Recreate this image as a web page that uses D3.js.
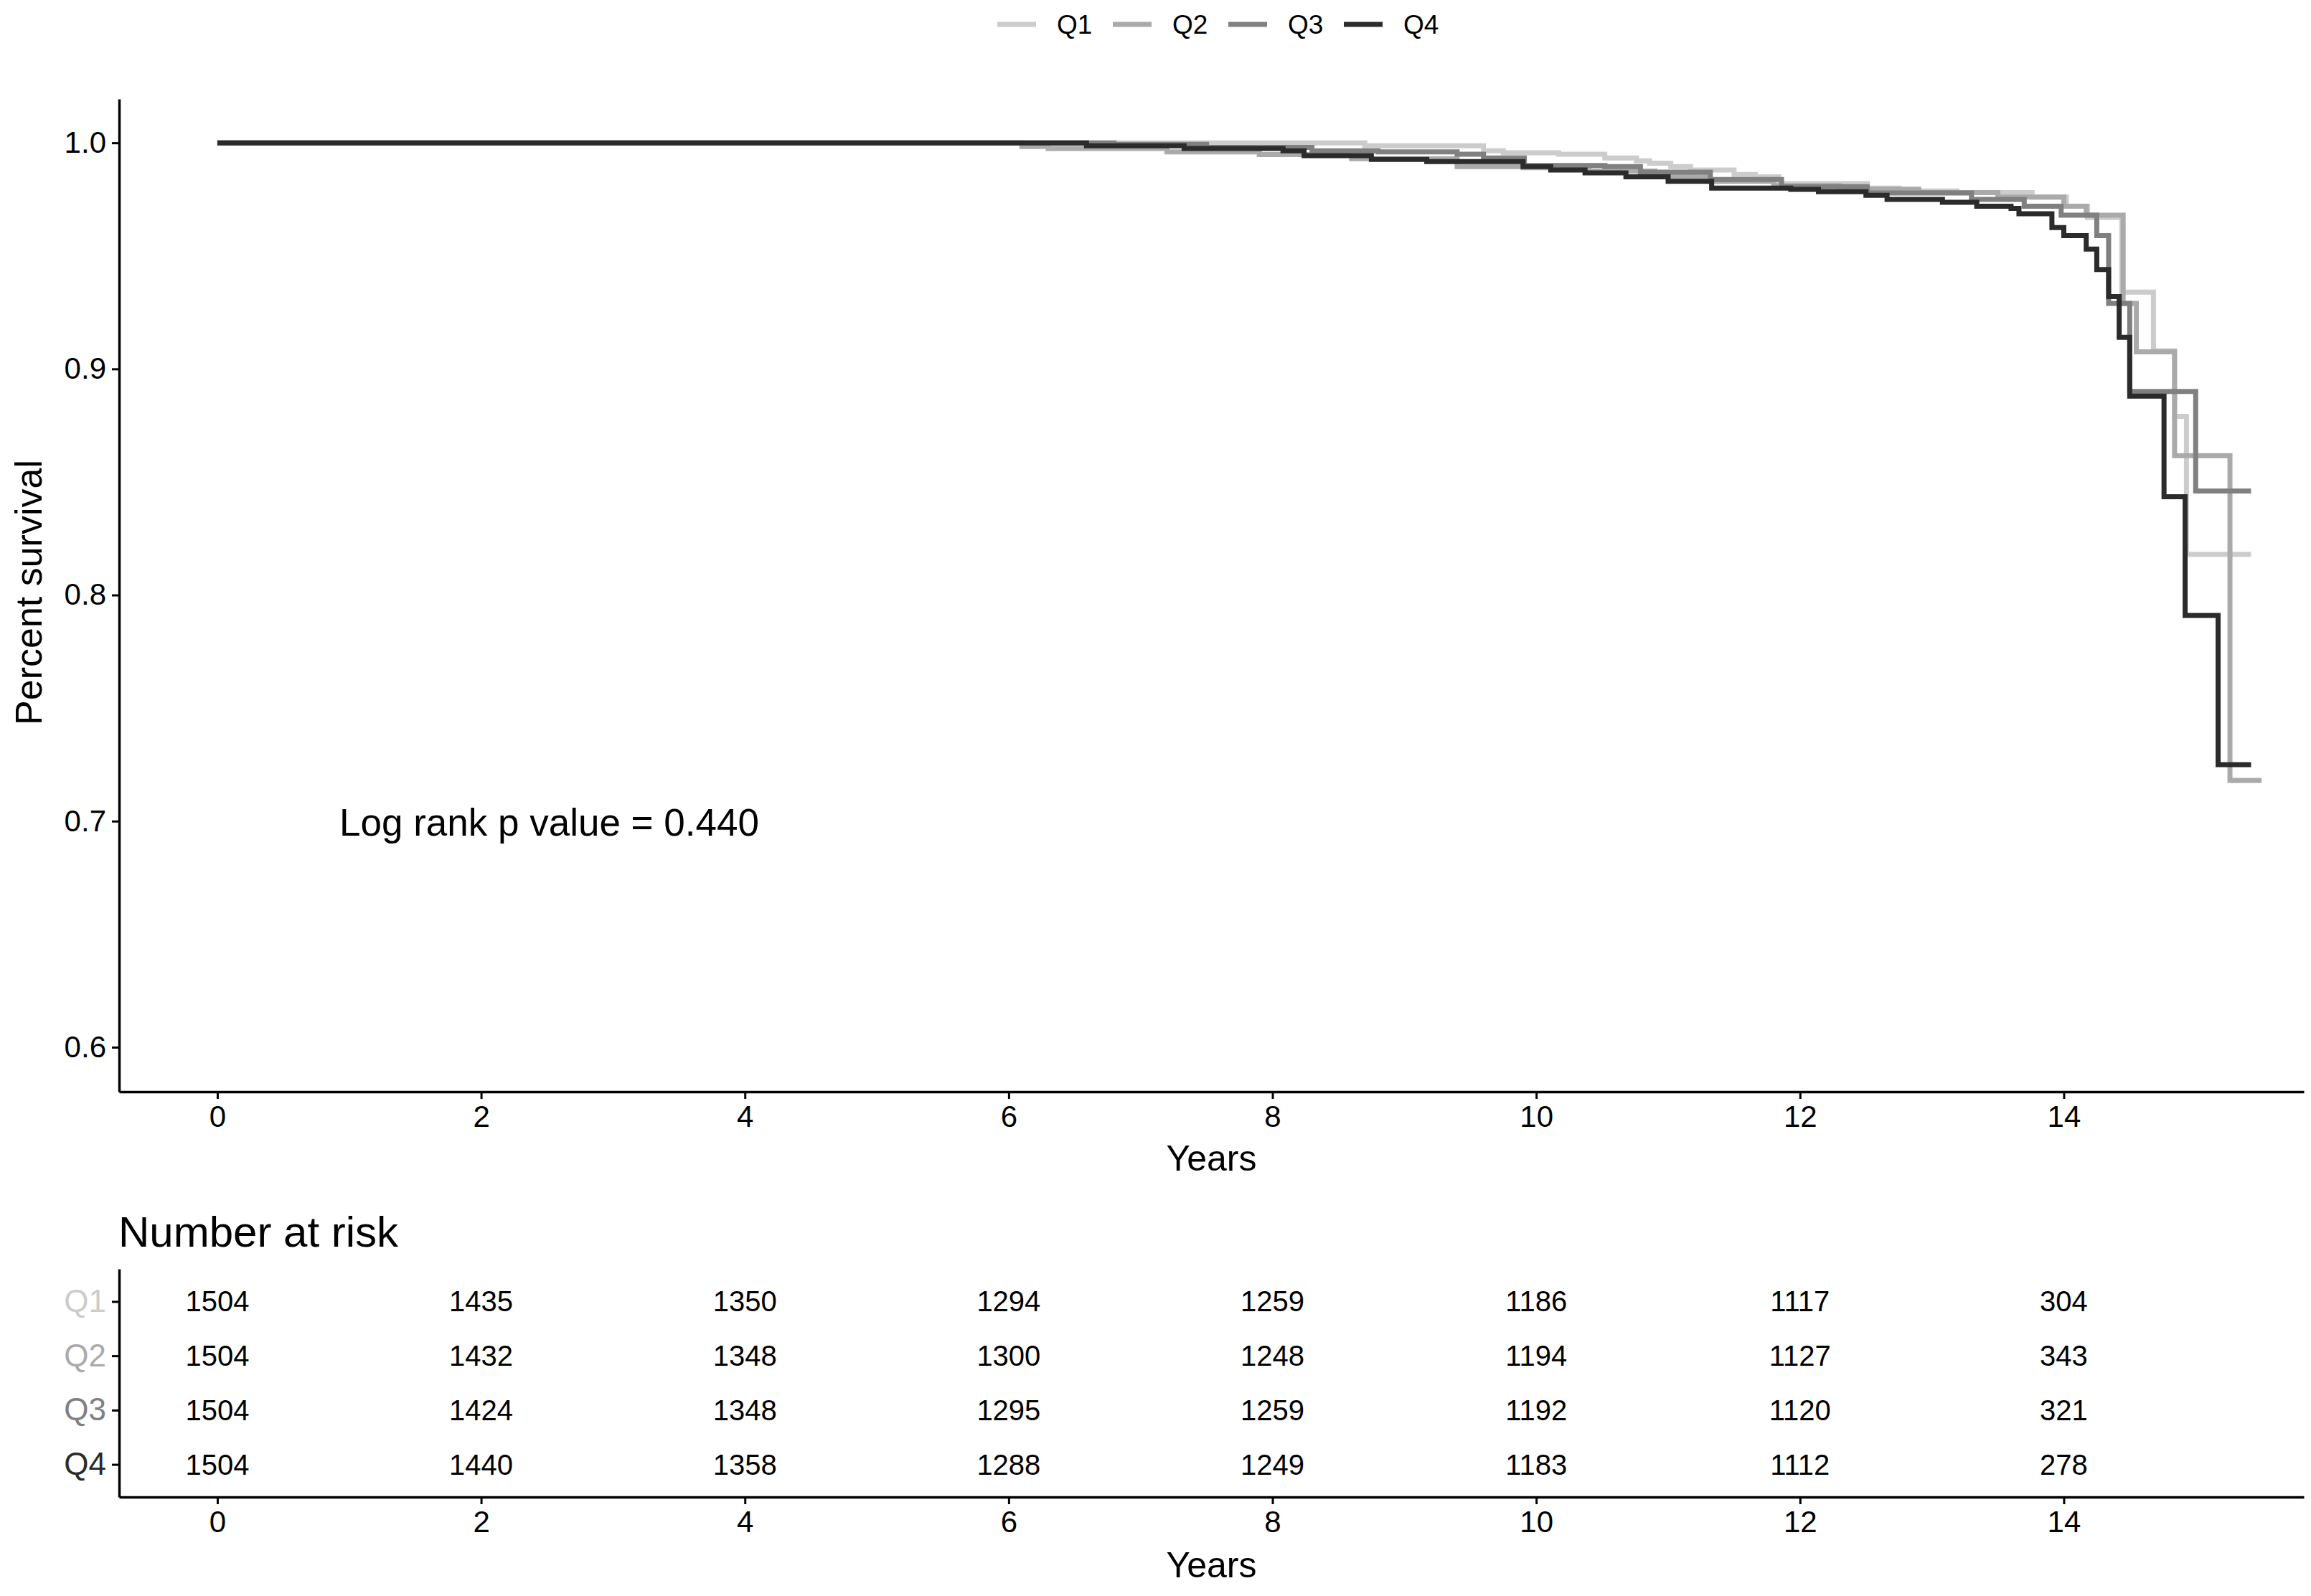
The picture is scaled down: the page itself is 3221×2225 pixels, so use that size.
<!DOCTYPE html>
<html>
<head>
<meta charset="utf-8">
<script src="https://d3js.org/d3.v7.min.js"></script>
<style>
  body { margin: 0; background: #fff; }
  text { font-family: "Liberation Sans", Arial, Helvetica, sans-serif; }
</style>
</head>
<body>
<svg id="chart"></svg>
<script>
var W = 3221, H = 2225;

var groups = ["Q1", "Q2", "Q3", "Q4"];
var colors = ["#cccccc", "#aaaaaa", "#808080", "#2b2b2b"];

// Kaplan-Meier step points (years, survival)
var q1Time = [0, 8.7, 9.6, 9.75, 10.17, 10.52, 10.76, 10.86, 11.02, 11.17, 11.5, 11.66, 11.84, 12.51, 12.75, 13.19, 13.76, 14.02, 14.18, 14.44, 14.68, 14.84, 14.93, 15.42];
var q1Surv = [1, 0.9987, 0.9965, 0.9956, 0.995, 0.9933, 0.992, 0.991, 0.9895, 0.988, 0.986, 0.985, 0.982, 0.980, 0.9787, 0.978, 0.976, 0.972, 0.967, 0.934, 0.908, 0.879, 0.818, 0.818];

var q2Time = [0, 6.1, 6.3, 7.2, 7.9, 8.6, 9.4, 9.9, 10.4, 10.9, 11.3, 11.8, 12.3, 12.9, 13.5, 14.0, 14.17, 14.45, 14.55, 14.84, 15.26, 15.5];
var q2Surv = [1, 0.9984, 0.9975, 0.996, 0.9948, 0.993, 0.9895, 0.989, 0.9875, 0.985, 0.983, 0.981, 0.9795, 0.978, 0.976, 0.972, 0.968, 0.929, 0.9076, 0.8616, 0.718, 0.718];

var q3Time = [0, 6.8, 7.5, 8.3, 8.8, 9.4, 9.6, 9.91, 10.52, 10.79, 11.32, 11.86, 12.51, 13.3, 13.7, 13.98, 14.25, 14.34, 14.5, 15.0, 15.42];
var q3Surv = [1, 0.9993, 0.998, 0.9965, 0.996, 0.995, 0.9933, 0.990, 0.9895, 0.987, 0.9838, 0.9806, 0.9778, 0.975, 0.972, 0.968, 0.959, 0.929, 0.890, 0.846, 0.846];

var q4Time = [0, 6.59, 7.33, 8.08, 8.24, 8.75, 9.17, 9.9, 10.11, 10.37, 10.68, 11.0, 11.33, 11.93, 12.14, 12.5, 12.66, 13.08, 13.34, 13.6, 13.66, 13.91, 14.0, 14.17, 14.25, 14.34, 14.42, 14.5, 14.76, 14.92, 15.17, 15.42];
var q4Surv = [1, 0.9987, 0.9975, 0.9965, 0.9943, 0.9927, 0.9917, 0.9895, 0.988, 0.9867, 0.985, 0.983, 0.980, 0.9794, 0.9784, 0.9768, 0.975, 0.9737, 0.972, 0.971, 0.9686, 0.9625, 0.959, 0.953, 0.944, 0.932, 0.914, 0.888, 0.8435, 0.791, 0.725, 0.725];

var riskTimes = [0, 2, 4, 6, 8, 10, 12, 14];
var riskQ1 = [1504, 1435, 1350, 1294, 1259, 1186, 1117, 304];
var riskQ2 = [1504, 1432, 1348, 1300, 1248, 1194, 1127, 343];
var riskQ3 = [1504, 1424, 1348, 1295, 1259, 1192, 1120, 321];
var riskQ4 = [1504, 1440, 1358, 1288, 1249, 1183, 1112, 278];

var xTicks = [0, 2, 4, 6, 8, 10, 12, 14];
var yTicks = [0.6, 0.7, 0.8, 0.9, 1.0];
var pText = "Log rank p value = 0.440";

var curves = [
  {name: "Q1", t: q1Time, s: q1Surv},
  {name: "Q2", t: q2Time, s: q2Surv},
  {name: "Q3", t: q3Time, s: q3Surv},
  {name: "Q4", t: q4Time, s: q4Surv}
];
var risk = [riskQ1, riskQ2, riskQ3, riskQ4];

var svg = d3.select("#chart").attr("width", W).attr("height", H);
svg.append("rect").attr("width", W).attr("height", H).attr("fill", "#fff");

// plot box (not "top": that name is taken by window.top)
var pLeft = 166, pRight = 3211, pTop = 138, pBottom = 1522;

var x = d3.scaleLinear().domain([-0.745, 15.82]).range([pLeft, pRight]);
var y = d3.scaleLinear().domain([0.5803, 1.0194]).range([pBottom, pTop]);
var color = d3.scaleOrdinal().domain(groups).range(colors);

function styleAxis(g, fs) {
  g.select(".domain").attr("stroke", "#000").attr("stroke-width", 3.5);
  g.selectAll(".tick line").attr("stroke", "#000").attr("stroke-width", 3);
  g.selectAll(".tick text").attr("font-size", fs).attr("fill", "#000")
    .attr("font-family", "Liberation Sans, Arial, sans-serif");
}

// main plot axes
var gx = svg.append("g").attr("transform", "translate(0," + pBottom + ")")
  .call(d3.axisBottom(x).tickValues(xTicks).tickSize(10).tickPadding(9).tickSizeOuter(0));
styleAxis(gx, 42);
var gy = svg.append("g").attr("transform", "translate(" + pLeft + ",0)")
  .call(d3.axisLeft(y).tickValues(yTicks).tickFormat(d3.format(".1f")).tickSize(10).tickPadding(8).tickSizeOuter(0));
styleAxis(gy, 42);

svg.append("text").attr("x", (pLeft + pRight) / 2).attr("y", 1632)
  .attr("text-anchor", "middle").attr("font-size", 50).text("Years");
svg.append("text").attr("transform", "translate(58,826) rotate(-90)")
  .attr("text-anchor", "middle").attr("font-size", 52).text("Percent survival");

// curves
var line = d3.line().curve(d3.curveStepAfter)
  .x(function(d) { return x(d[0]); })
  .y(function(d) { return y(d[1]); });

svg.append("g").selectAll("path")
  .data(curves)
  .enter()
  .append("path")
  .attr("d", function(c) { return line(c.t.map(function(t, i) { return [t, c.s[i]]; })); })
  .attr("fill", "none")
  .attr("stroke", function(c) { return color(c.name); })
  .attr("stroke-width", 7);

svg.append("text").attr("x", 473).attr("y", 1165)
  .attr("font-size", 53).attr("fill", "#000").text(pText);

// legend
var leg = svg.append("g").selectAll("g")
  .data(groups)
  .enter()
  .append("g")
  .attr("transform", function(d, i) { return "translate(" + (1390 + i * 161) + ",34)"; });
leg.append("line").attr("x1", 0).attr("x2", 54)
  .attr("stroke", function(d) { return color(d); }).attr("stroke-width", 7);
leg.append("text").attr("x", 83).attr("y", 13).attr("font-size", 37).text(function(d) { return d; });

// number at risk table
svg.append("text").attr("x", 165).attr("y", 1738).attr("font-size", 60).text("Number at risk");

var rTop = 1769, rBottom = 2087;
var ry = d3.scalePoint().domain(groups).range([rTop, rBottom]).padding(0.6);

var rgx = svg.append("g").attr("transform", "translate(0," + rBottom + ")")
  .call(d3.axisBottom(x).tickValues(xTicks).tickSize(10).tickPadding(9).tickSizeOuter(0));
styleAxis(rgx, 42);
var rgy = svg.append("g").attr("transform", "translate(" + pLeft + ",0)")
  .call(d3.axisLeft(ry).tickSize(10).tickPadding(8).tickSizeOuter(0));
styleAxis(rgy, 44);
rgy.selectAll(".tick text").attr("fill", function(d) { return color(d); });

svg.append("text").attr("x", (pLeft + pRight) / 2).attr("y", 2199)
  .attr("text-anchor", "middle").attr("font-size", 50).text("Years");

groups.forEach(function(gname, gi) {
  svg.append("g").selectAll("text")
    .data(riskTimes)
    .enter()
    .append("text")
    .attr("x", function(t) { return x(t); })
    .attr("y", ry(gname) + 14)
    .attr("text-anchor", "middle")
    .attr("font-size", 40)
    .attr("fill", "#000")
    .text(function(t, i) { return risk[gi][i]; });
});
</script>
</body>
</html>
